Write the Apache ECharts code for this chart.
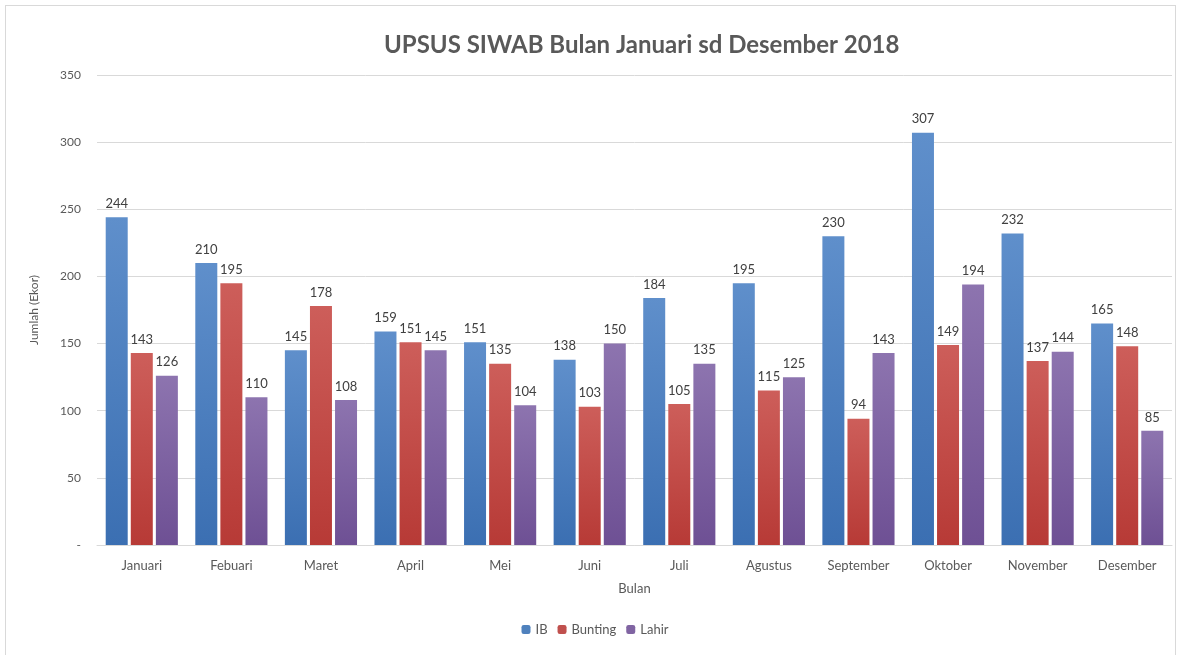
<!DOCTYPE html>
<html>
<head>
<meta charset="utf-8">
<script src="https://cdn.jsdelivr.net/npm/echarts@6/dist/echarts.min.js"></script>
<style>
  html, body { margin: 0; padding: 0; background: #fff; }
  #frame { position: absolute; left: 5px; top: 5px; width: 1171px; height: 660px; border: 1px solid #d9d9d9; box-sizing: border-box; }
  #main { width: 1190px; height: 655px; position: absolute; left: 0; top: 0; }
</style>
</head>
<body>
<div id="frame"></div>
<div id="main"></div>
<script>
var months = ['Januari', 'Febuari', 'Maret', 'April', 'Mei', 'Juni', 'Juli', 'Agustus', 'September', 'Oktober', 'November', 'Desember'];
var ib = [244, 210, 145, 159, 151, 138, 184, 195, 230, 307, 232, 165];
var bunting = [143, 195, 178, 151, 135, 103, 105, 115, 94, 149, 137, 148];
var lahir = [126, 110, 108, 145, 104, 150, 135, 125, 143, 194, 144, 85];

var chartDom = document.getElementById('main');
var myChart = echarts.init(chartDom);
var font = 'Lato, "Open Sans", sans-serif';

function grad(top, bottom) {
    return new echarts.graphic.LinearGradient(0, 0, 0, 1, [
        { offset: 0, color: top },
        { offset: 1, color: bottom }
    ]);
}

function barSeries(name, data, top, bottom) {
    return {
        name: name,
        type: 'bar',
        data: data,
        barWidth: 22,
        barGap: '14%',
        itemStyle: { color: grad(top, bottom) },
        label: {
            show: true,
            position: 'top',
            distance: 7,
            color: '#404040',
            fontSize: 13,
            fontFamily: font
        }
    };
}

var option = {
    color: ['#4f81bd', '#c0504d', '#8064a2'],
    textStyle: { fontFamily: font },
    title: {
        text: 'UPSUS SIWAB Bulan Januari sd Desember 2018',
        left: 379,
        top: 28,
        textStyle: { fontSize: 24, fontWeight: 'bold', color: '#595959', fontFamily: font }
    },
    legend: {
        bottom: 14,
        left: 'center',
        itemWidth: 9,
        itemHeight: 9,
        itemGap: 10,
        textStyle: { color: '#595959', fontSize: 13, fontFamily: font },
        data: [
            { name: 'IB', itemStyle: { color: '#4f81bd' } },
            { name: 'Bunting', itemStyle: { color: '#c0504d' } },
            { name: 'Lahir', itemStyle: { color: '#8064a2' } }
        ]
    },
    grid: { left: 97, right: 18, top: 75, bottom: 110 },
    xAxis: {
        type: 'category',
        data: months,
        name: 'Bulan',
        nameLocation: 'middle',
        nameGap: 37,
        nameTextStyle: { color: '#595959', fontSize: 13, fontFamily: font },
        axisTick: { show: false },
        axisLine: { lineStyle: { color: '#d9d9d9' } },
        axisLabel: { color: '#595959', fontSize: 13, margin: 14, fontFamily: font }
    },
    yAxis: {
        type: 'value',
        min: 0,
        max: 350,
        interval: 50,
        name: 'Jumlah (Ekor)',
        nameLocation: 'middle',
        nameGap: 57,
        nameTextStyle: { color: '#595959', fontSize: 12, fontFamily: font },
        axisLine: { show: false },
        axisTick: { show: false },
        splitLine: { lineStyle: { color: '#d9d9d9' } },
        axisLabel: {
            color: '#595959',
            fontSize: 12,
            margin: 16,
            fontFamily: font,
            formatter: function (v) { return v === 0 ? '-' : v; }
        }
    },
    series: [
        barSeries('IB', ib, '#5f8fcb', '#3b6fb2'),
        barSeries('Bunting', bunting, '#cd5e5a', '#b73a36'),
        barSeries('Lahir', lahir, '#8d74af', '#6e5094')
    ]
};
myChart.setOption(option);
</script>
</body>
</html>
